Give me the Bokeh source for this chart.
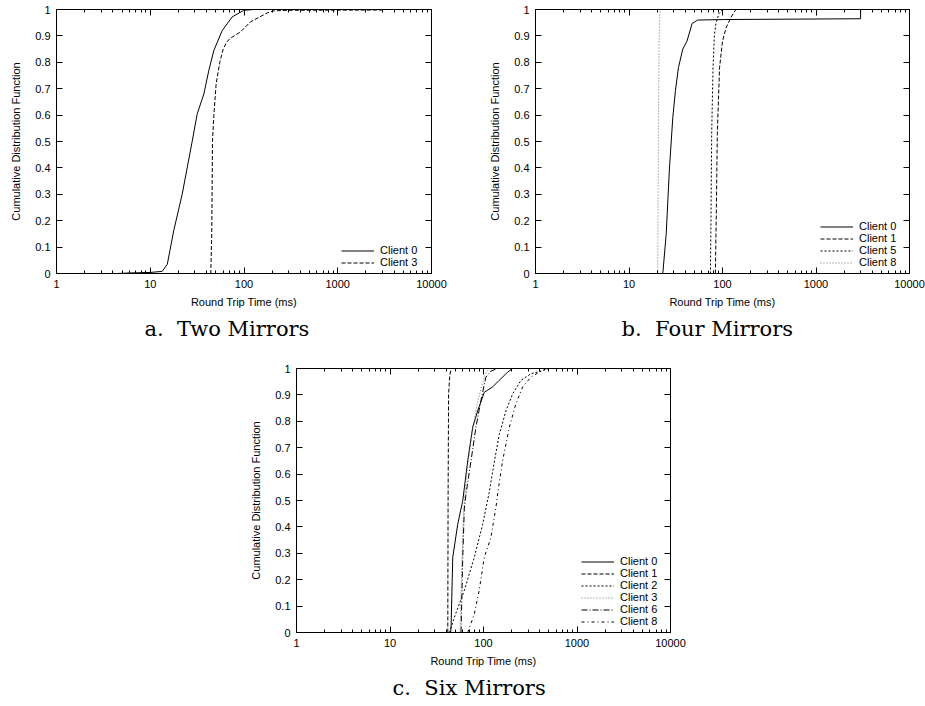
from bokeh.plotting import figure
from bokeh.models import Range1d, FixedTicker, LogAxis, LinearAxis, Legend, LegendItem, Spacer
from bokeh.layouts import row, column
from bokeh.embed import file_html
from bokeh.resources import INLINE

# ---------------- data ----------------
X_TICKS = [1, 10, 100, 1000, 10000]
X_TICK_LABELS = ["1", "10", "100", "1000", "10000"]
Y_TICKS = [0, 0.1, 0.2, 0.3, 0.4, 0.5, 0.6, 0.7, 0.8, 0.9, 1]
Y_TICK_LABELS = ["0", "0.1", "0.2", "0.3", "0.4", "0.5", "0.6", "0.7", "0.8", "0.9", "1"]
X_LABEL = "Round Trip Time (ms)"
Y_LABEL = "Cumulative Distribution Function"

# a. Two Mirrors
A_C0_X = [4.5, 6, 10, 13.4, 15.2, 17.8, 21.9, 28, 31.7, 37.3, 42.2, 47.7, 58.5, 74.8, 99.6, 127, 3000]
A_C0_Y = [0, 0.002, 0.004, 0.008, 0.035, 0.162, 0.30, 0.50, 0.605, 0.68, 0.77, 0.845, 0.92, 0.972, 0.997, 1.0, 1.0]
A_C3_X = [10, 44.2, 45.3, 46.1, 47.7, 50.5, 55.2, 60, 65, 70.6, 91.8, 117, 177, 208, 300, 3000, 3100]
A_C3_Y = [0, 0, 0.15, 0.5, 0.6, 0.72, 0.8, 0.85, 0.875, 0.89, 0.915, 0.953, 0.987, 0.995, 0.997, 0.998, 1.0]

# b. Four Mirrors
B_C0_X = [23.0, 25, 27.1, 29.4, 31.4, 33.8, 37.6, 41.7, 47.3, 54.3, 104.6, 3000, 3000]
B_C0_Y = [0, 0.15, 0.40, 0.59, 0.694, 0.78, 0.85, 0.88, 0.947, 0.96, 0.962, 0.965, 1.0]
B_C1_X = [83.9, 86, 88, 93, 100, 109, 123, 139, 3000]
B_C1_Y = [0, 0.25, 0.53, 0.78, 0.88, 0.93, 0.97, 1.0, 1.0]
B_C5_X = [74.3, 75.5, 76.6, 79.2, 81.8, 85.2, 92, 100, 2000]
B_C5_Y = [0, 0.25, 0.53, 0.78, 0.9, 0.95, 0.985, 1.0, 1.0]
B_C8_X = [20.3, 20.6, 21.0, 21.5, 1500]
B_C8_Y = [0, 0.5, 0.9, 1.0, 1.0]

# c. Six Mirrors
C_C0_X = [44.5, 45, 46.9, 53, 60, 67.8, 76.7, 86.7, 102, 125, 147, 181, 204, 2000]
C_C0_Y = [0, 0.02, 0.285, 0.41, 0.5, 0.65, 0.778, 0.84, 0.91, 0.93, 0.955, 0.986, 1.0, 1.0]
C_C1_X = [41.5, 41.8, 42.3, 43.5, 45, 2000]
C_C1_Y = [0, 0.5, 0.9, 0.97, 1.0, 1.0]
C_C2_X = [43.2, 48.9, 62.4, 79.8, 98, 115, 131, 147.5, 174, 205, 251, 321, 410, 500, 2000]
C_C2_Y = [0, 0.058, 0.16, 0.285, 0.41, 0.53, 0.65, 0.75, 0.84, 0.904, 0.955, 0.98, 0.99, 1.0, 1.0]
C_C3_X = [56, 58, 61, 66, 75, 85, 95, 105, 115, 2000]
C_C3_Y = [0, 0.2, 0.45, 0.6, 0.75, 0.86, 0.93, 0.98, 1.0, 1.0]
C_C6_X = [57.5, 60, 62.4, 65, 73.5, 83, 94, 106, 120, 141, 2000]
C_C6_Y = [0, 0.285, 0.47, 0.525, 0.65, 0.778, 0.88, 0.967, 0.99, 1.0, 1.0]
C_C8_X = [67.8, 79.8, 90, 102, 120, 136, 141.6, 160, 189, 222, 262, 321, 394, 470, 2000]
C_C8_Y = [0, 0.07, 0.16, 0.285, 0.36, 0.475, 0.525, 0.65, 0.778, 0.866, 0.93, 0.967, 0.986, 1.0, 1.0]

# ---------------- styles ----------------
STYLE = {
    "solid": dict(line_color="black", line_dash="solid"),
    "dash": dict(line_color="black", line_dash="4 2"),
    "shortdash": dict(line_color="black", line_dash="2 2"),
    "dot": dict(line_color="#6e6e6e", line_dash="1 2"),
    "dashdot": dict(line_color="black", line_dash="6 2 1 2"),
    "dashdotdot": dict(line_color="black", line_dash="3 3 1 3"),
}

SANS = "Liberation Sans"
X_MINOR = [m * d for d in [1, 10, 100, 1000] for m in range(2, 10)]


def style_axis(ax, labels=True):
    ax.axis_line_color = "black"
    ax.axis_line_width = 1
    ax.major_tick_line_color = "black"
    ax.minor_tick_line_color = "black"
    ax.major_tick_in = 6
    ax.major_tick_out = 0
    ax.minor_tick_in = 3
    ax.minor_tick_out = 0
    if labels:
        ax.major_label_text_font = SANS
        ax.major_label_text_font_size = "11px"
        ax.major_label_text_color = "black"
        ax.major_label_standoff = 6
        ax.axis_label_text_font = SANS
        ax.axis_label_text_font_size = "11px"
        ax.axis_label_text_font_style = "normal"
        ax.axis_label_text_color = "black"
        ax.axis_label_standoff = 5
    else:
        ax.major_label_text_font_size = "1px"
        ax.major_label_standoff = 0


def make_panel(caption, series, width, height, bl, br, bt, bb, legend_xy, cap_offset):
    p = figure(width=width, height=height, x_axis_type="log",
               x_range=Range1d(1, 10000), y_range=Range1d(0, 1),
               output_backend="svg", toolbar_location=None,
               title=caption, title_location="below",
               min_border_left=bl, min_border_right=br,
               min_border_top=bt, min_border_bottom=bb)
    p.grid.visible = False
    p.outline_line_color = "black"
    p.outline_line_width = 1
    p.background_fill_color = "white"
    p.border_fill_color = "white"

    xt = FixedTicker(ticks=X_TICKS, minor_ticks=X_MINOR)
    yt = FixedTicker(ticks=Y_TICKS, minor_ticks=[])
    xa = p.xaxis[0]
    xa.ticker = xt
    xa.major_label_overrides = dict(zip(X_TICKS, X_TICK_LABELS))
    xa.axis_label = X_LABEL
    style_axis(xa)
    ya = p.yaxis[0]
    ya.ticker = yt
    ya.major_label_overrides = dict(zip(Y_TICKS, Y_TICK_LABELS))
    ya.axis_label = Y_LABEL
    style_axis(ya)
    ya.axis_label_standoff = 10

    top = LogAxis(ticker=xt, major_label_overrides={t: "" for t in X_TICKS})
    style_axis(top, labels=False)
    p.add_layout(top, "above")
    right = LinearAxis(ticker=yt, major_label_overrides={t: "" for t in Y_TICKS})
    style_axis(right, labels=False)
    p.add_layout(right, "right")

    items = []
    for name, xs, ys, st in series:
        r = p.line(xs, ys, line_width=1, **STYLE[st])
        items.append(LegendItem(label=name, renderers=[r]))
    leg = Legend(items=items, location=legend_xy)
    leg.background_fill_alpha = 0
    leg.border_line_alpha = 0
    leg.label_text_font = SANS
    leg.label_text_font_size = "11px"
    leg.label_text_color = "black"
    leg.glyph_width = 33
    leg.glyph_height = 11
    leg.label_height = 11
    leg.spacing = 0
    leg.padding = 0
    leg.margin = 0
    leg.label_standoff = 6
    p.add_layout(leg)

    p.title.text_font = "DejaVu Serif"
    p.title.text_font_size = "21px"
    p.title.text_font_style = "normal"
    p.title.text_color = "black"
    p.title.align = "left"
    p.title.offset = cap_offset
    p.title.standoff = 9
    return p


pa = make_panel("a.\u00a0 Two Mirrors", [
    ("Client 0", A_C0_X, A_C0_Y, "solid"),
    ("Client 3", A_C3_X, A_C3_Y, "dash"),
], 486, 350, 56, 55, 9, 77, (285, 5), 88)

pb = make_panel("b.\u00a0 Four Mirrors", [
    ("Client 0", B_C0_X, B_C0_Y, "solid"),
    ("Client 1", B_C1_X, B_C1_Y, "dash"),
    ("Client 5", B_C5_X, B_C5_Y, "shortdash"),
    ("Client 8", B_C8_X, B_C8_Y, "dot"),
], 439, 350, 48, 16, 9, 77, (285, 5), 86)

pc = make_panel("c.\u00a0 Six Mirrors", [
    ("Client 0", C_C0_X, C_C0_Y, "solid"),
    ("Client 1", C_C1_X, C_C1_Y, "dash"),
    ("Client 2", C_C2_X, C_C2_Y, "shortdash"),
    ("Client 3", C_C3_X, C_C3_Y, "dot"),
    ("Client 6", C_C6_X, C_C6_Y, "dashdot"),
    ("Client 8", C_C8_X, C_C8_Y, "dashdotdot"),
], 453, 356, 48, 30, 18, 74, (285, 5), 96)

layout = column(row(pa, pb), row(Spacer(width=247, height=356), pc))

open("out.html", "w").write(file_html(layout, INLINE))
